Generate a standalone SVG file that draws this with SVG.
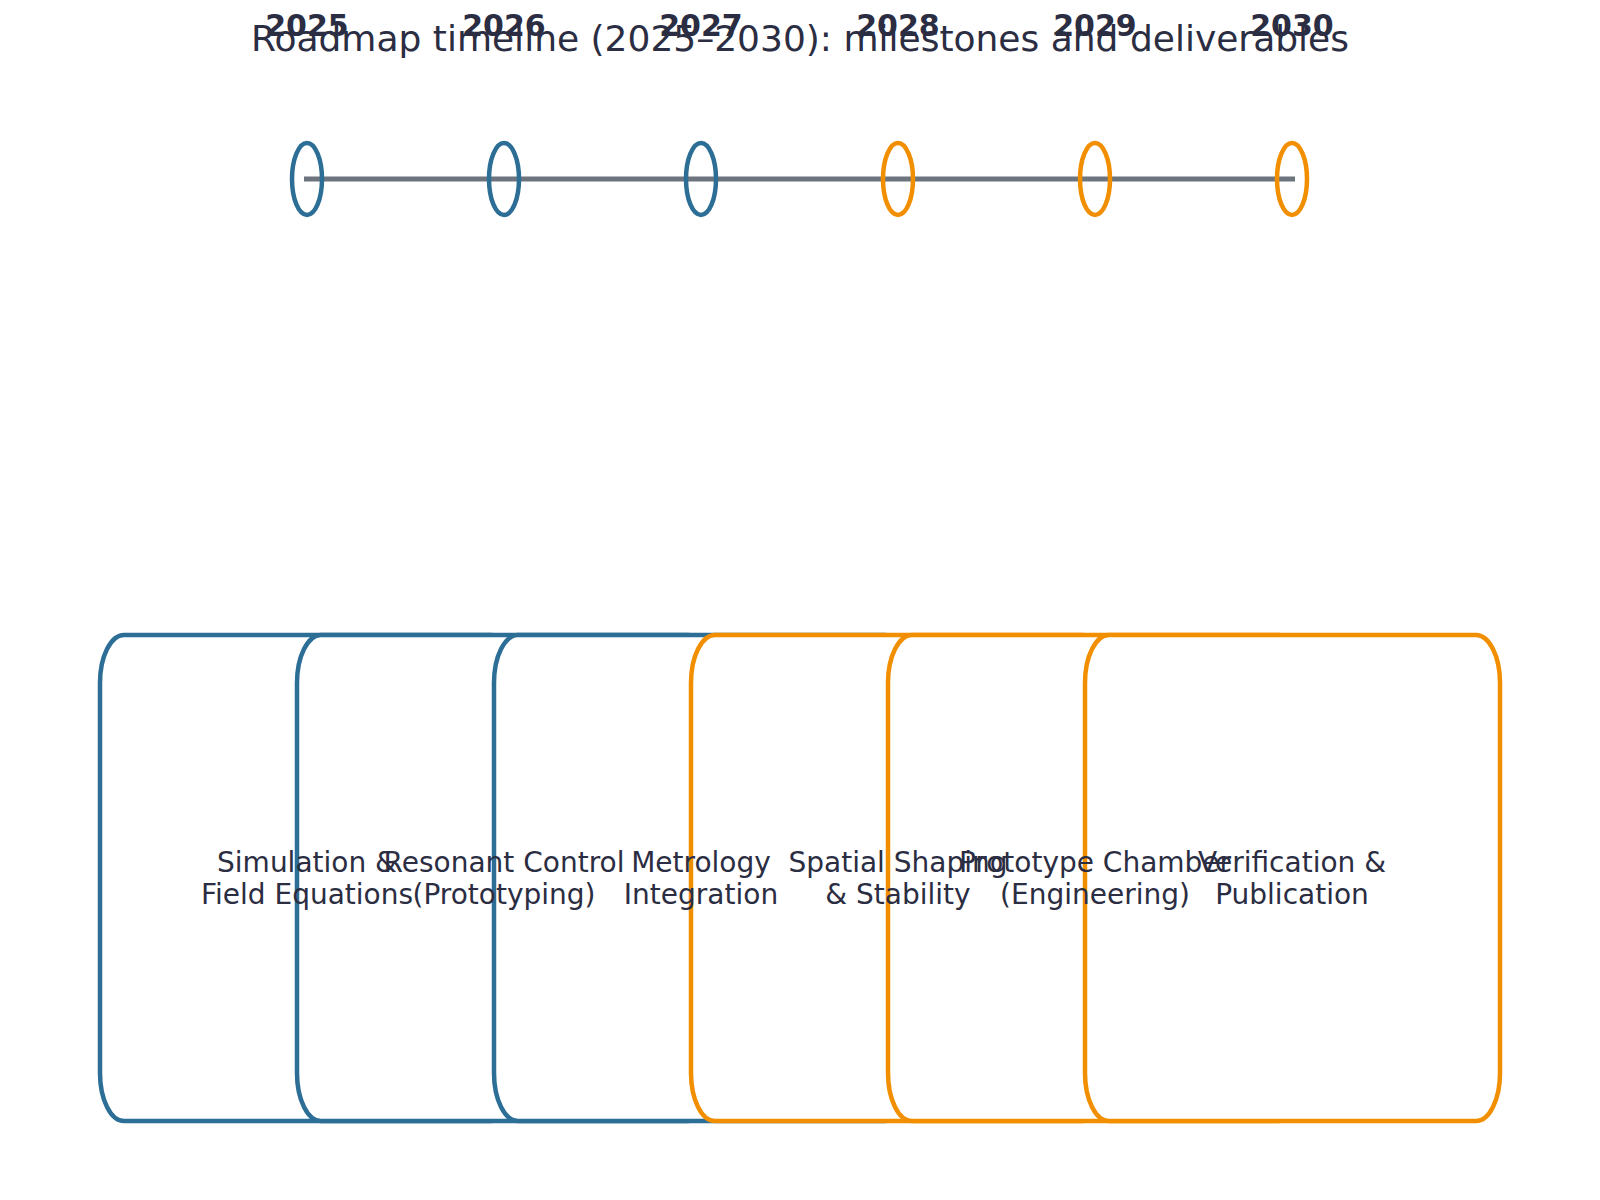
<svg xmlns="http://www.w3.org/2000/svg" width="1600" height="1200" viewBox="0 0 1600 1200">
<style>
.title{font-family:"DejaVu Sans","Liberation Sans",sans-serif;font-size:36px;fill:#2b2d42;text-anchor:middle}
.year{font-family:"DejaVu Sans","Liberation Sans",sans-serif;font-size:30px;font-weight:bold;fill:#2b2d42;text-anchor:middle}
.lbl{font-family:"DejaVu Sans","Liberation Sans",sans-serif;font-size:28px;fill:#2b2d42;text-anchor:middle}
.mk{fill:none;stroke-width:4.5}
.box{fill:#ffffff;stroke-width:4.5}
.blue{stroke:#2c6e96}
.orange{stroke:#f18f01}
.axis{stroke:#6c757d;stroke-width:5;fill:none}
</style>
<rect width="1600" height="1200" fill="#ffffff"/>
<text class="title" x="800" y="51">Roadmap timeline (2025–2030): milestones and deliverables</text>
<g id="connectors">
<line class="axis" x1="304" y1="179" x2="1295" y2="179"/>
</g>
<g id="markers">
<g id="m2025"><ellipse class="mk blue" cx="307" cy="179" rx="15" ry="36"/><text class="year" x="307" y="36">2025</text></g>
<g id="m2026"><ellipse class="mk blue" cx="504" cy="179" rx="15" ry="36"/><text class="year" x="504" y="36">2026</text></g>
<g id="m2027"><ellipse class="mk blue" cx="701" cy="179" rx="15" ry="36"/><text class="year" x="701" y="36">2027</text></g>
<g id="m2028"><ellipse class="mk orange" cx="898" cy="179" rx="15" ry="36"/><text class="year" x="898" y="36">2028</text></g>
<g id="m2029"><ellipse class="mk orange" cx="1095" cy="179" rx="15" ry="36"/><text class="year" x="1095" y="36">2029</text></g>
<g id="m2030"><ellipse class="mk orange" cx="1292" cy="179" rx="15" ry="36"/><text class="year" x="1292" y="36">2030</text></g>
</g>
<g id="boxes">
<g id="box2025"><rect class="box blue" x="100" y="635" width="415" height="486" rx="24" ry="48"/></g>
<g id="box2026"><rect class="box blue" x="297" y="635" width="415" height="486" rx="24" ry="48"/></g>
<g id="box2027"><rect class="box blue" x="494" y="635" width="415" height="486" rx="24" ry="48"/></g>
<g id="box2028"><rect class="box orange" x="691" y="635" width="415" height="486" rx="24" ry="48"/></g>
<g id="box2029"><rect class="box orange" x="888" y="635" width="415" height="486" rx="24" ry="48"/></g>
<g id="box2030"><rect class="box orange" x="1085" y="635" width="415" height="486" rx="24" ry="48"/></g>
</g>
<g id="labels">
<g id="label2025"><text class="lbl" x="307" y="872">Simulation &amp;</text><text class="lbl" x="307" y="904">Field Equations</text></g>
<g id="label2026"><text class="lbl" x="504" y="872">Resonant Control</text><text class="lbl" x="504" y="904">(Prototyping)</text></g>
<g id="label2027"><text class="lbl" x="701" y="872">Metrology</text><text class="lbl" x="701" y="904">Integration</text></g>
<g id="label2028"><text class="lbl" x="898" y="872">Spatial Shaping</text><text class="lbl" x="898" y="904">&amp; Stability</text></g>
<g id="label2029"><text class="lbl" x="1095" y="872">Prototype Chamber</text><text class="lbl" x="1095" y="904">(Engineering)</text></g>
<g id="label2030"><text class="lbl" x="1292" y="872">Verification &amp;</text><text class="lbl" x="1292" y="904">Publication</text></g>
</g>
</svg>
